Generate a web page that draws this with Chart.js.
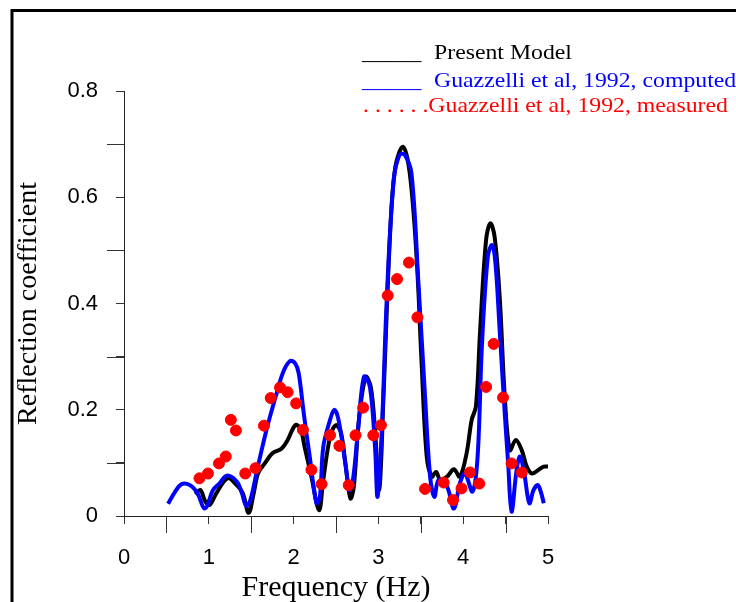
<!DOCTYPE html>
<html lang="en">
<head>
    <meta charset="UTF-8">
    <title>Reflection coefficient vs frequency</title>
    <script src="https://cdn.jsdelivr.net/npm/chart.js"></script>
    <style>
        body {
            margin: 0;
            background: white;
        }
        .chart-box {
            width: 736px;
            height: 602px;
        }
    </style>
</head>
<body>
    <div class="chart-box">
        <canvas id="reflectionChart" width="736" height="602"></canvas>
    </div>

    <script>
        // measured points (Guazzelli et al, 1992)
        const measuredFreq = [0.89, 0.99, 1.12, 1.20, 1.26, 1.32, 1.43, 1.55, 1.65, 1.73,
            1.84, 1.93, 2.03, 2.11, 2.21, 2.33, 2.43, 2.54, 2.65, 2.73,
            2.82, 2.94, 3.03, 3.11, 3.22, 3.36, 3.46, 3.55, 3.77, 3.88,
            3.98, 4.08, 4.19, 4.27, 4.36, 4.47, 4.57, 4.69];
        const measuredRefl = [0.071, 0.080, 0.099, 0.112, 0.181, 0.161, 0.080, 0.090, 0.170, 0.222,
            0.242, 0.233, 0.212, 0.162, 0.087, 0.060, 0.152, 0.132, 0.058, 0.152,
            0.204, 0.152, 0.171, 0.415, 0.446, 0.477, 0.374, 0.051, 0.063, 0.030,
            0.052, 0.082, 0.061, 0.243, 0.324, 0.223, 0.099, 0.082];

        // present model
        const modelFreq = [0.84, 0.90, 0.96, 1.01, 1.09, 1.22, 1.33, 1.40, 1.47, 1.53,
            1.58, 1.66, 1.75, 1.86, 1.93, 2.02, 2.08, 2.13, 2.21, 2.30,
            2.35, 2.43, 2.50, 2.56, 2.62, 2.67, 2.71, 2.77, 2.85, 2.91,
            2.96, 3.01, 3.06, 3.14, 3.20, 3.29, 3.37, 3.45, 3.51, 3.57,
            3.63, 3.68, 3.73, 3.81, 3.89, 3.96, 4.04, 4.10, 4.15, 4.20,
            4.27, 4.32, 4.37, 4.43, 4.49, 4.55, 4.62, 4.69, 4.75, 4.81,
            4.89, 4.95, 5.00];
        const modelRefl = [0.041, 0.049, 0.027, 0.021, 0.043, 0.071, 0.058, 0.043, 0.006, 0.043,
            0.080, 0.099, 0.118, 0.127, 0.143, 0.171, 0.165, 0.130, 0.074, 0.011,
            0.068, 0.149, 0.171, 0.156, 0.087, 0.033, 0.055, 0.181, 0.262, 0.243,
            0.162, 0.050, 0.225, 0.538, 0.657, 0.695, 0.645, 0.488, 0.287, 0.112,
            0.074, 0.083, 0.068, 0.074, 0.088, 0.074, 0.118, 0.181, 0.206, 0.350,
            0.520, 0.551, 0.526, 0.413, 0.225, 0.124, 0.143, 0.124, 0.093, 0.080,
            0.087, 0.093, 0.093];

        // computed (Guazzelli et al, 1992)
        const computedFreq = [0.52, 0.60, 0.68, 0.78, 0.86, 0.955, 1.05, 1.13, 1.21, 1.33,
            1.39, 1.44, 1.49, 1.57, 1.68, 1.80, 1.88, 1.96, 2.02, 2.06,
            2.12, 2.19, 2.27, 2.31, 2.35, 2.43, 2.48, 2.53, 2.61, 2.66,
            2.70, 2.76, 2.83, 2.90, 2.96, 2.99, 3.04, 3.10, 3.18, 3.25,
            3.31, 3.39, 3.47, 3.55, 3.61, 3.66, 3.71, 3.81, 3.89, 3.96,
            4.02, 4.11, 4.17, 4.22, 4.29, 4.34, 4.38, 4.43, 4.49, 4.53,
            4.57, 4.63, 4.67, 4.72, 4.78, 4.83, 4.88, 4.92, 4.95];
        const computedRefl = [0.023, 0.045, 0.060, 0.058, 0.045, 0.014, 0.049, 0.062, 0.076, 0.065,
            0.043, 0.019, 0.030, 0.087, 0.162, 0.231, 0.272, 0.292, 0.287, 0.269,
            0.193, 0.112, 0.024, 0.036, 0.130, 0.181, 0.200, 0.181, 0.099, 0.049,
            0.068, 0.162, 0.262, 0.243, 0.130, 0.036, 0.162, 0.413, 0.632, 0.680,
            0.680, 0.645, 0.444, 0.225, 0.074, 0.036, 0.068, 0.055, 0.014, 0.061,
            0.080, 0.046, 0.112, 0.319, 0.488, 0.510, 0.476, 0.350, 0.193, 0.099,
            0.008, 0.087, 0.112, 0.080, 0.024, 0.049, 0.058, 0.043, 0.024];

        const xTicks = [0, 1, 2, 3, 4, 5];
        const yTicks = [0, 0.2, 0.4, 0.6, 0.8];

        const toPoints = (xs, ys) => xs.map((x, i) => ({ x: x, y: ys[i] }));

        function stretchedText(ctx, str, x, y, color) {
            ctx.save();
            ctx.translate(x, y);
            ctx.scale(1.08, 1);
            ctx.fillStyle = color;
            ctx.fillText(str, 0, 0);
            ctx.restore();
        }

        // frame, long minor ticks and the text legend
        const decorations = {
            id: 'decorations',
            afterDraw(chart) {
                const ctx = chart.ctx;
                const xs = chart.scales.x;
                const ys = chart.scales.y;
                ctx.save();

                ctx.strokeStyle = '#000';
                ctx.lineWidth = 3;
                ctx.beginPath();
                ctx.moveTo(736, 10.5);
                ctx.lineTo(12, 10.5);
                ctx.lineTo(12, 602);
                ctx.stroke();

                ctx.strokeStyle = '#333';
                ctx.lineWidth = 1;
                xs.ticks.forEach(t => {
                    if (!xTicks.includes(Math.round(t.value * 10) / 10)) {
                        const px = Math.round(xs.getPixelForValue(t.value)) + 0.5;
                        ctx.beginPath();
                        ctx.moveTo(px, xs.top);
                        ctx.lineTo(px, xs.top + 17);
                        ctx.stroke();
                    }
                });
                ys.ticks.forEach(t => {
                    if (!yTicks.includes(Math.round(t.value * 10) / 10)) {
                        const py = Math.round(ys.getPixelForValue(t.value)) + 0.5;
                        ctx.beginPath();
                        ctx.moveTo(ys.right, py);
                        ctx.lineTo(ys.right - 17, py);
                        ctx.stroke();
                    }
                });

                ctx.font = '22px "Liberation Serif"';
                ctx.textBaseline = 'alphabetic';
                stretchedText(ctx, '_____', 362, 59, '#000');
                stretchedText(ctx, 'Present Model', 434, 59, '#000');
                stretchedText(ctx, '_____', 362, 86.5, '#0000ff');
                stretchedText(ctx, 'Guazzelli et al, 1992, computed', 434, 86.5, '#0000ff');
                stretchedText(ctx, '. . . . . .Guazzelli et al, 1992, measured', 363, 112, '#ff0000');

                ctx.restore();
            }
        };

        const ctx = document.getElementById('reflectionChart').getContext('2d');

        new Chart(ctx, {
            type: 'scatter',
            data: {
                datasets: [
                    {
                        label: 'Guazzelli et al, 1992, measured',
                        data: toPoints(measuredFreq, measuredRefl),
                        backgroundColor: '#ff0000',
                        borderColor: '#ff0000',
                        pointRadius: 5.5,
                        showLine: false,
                        order: 0
                    },
                    {
                        label: 'Guazzelli et al, 1992, computed',
                        data: toPoints(computedFreq, computedRefl),
                        borderColor: '#0000ff',
                        borderWidth: 4,
                        pointRadius: 0,
                        showLine: true,
                        tension: 0.35,
                        order: 1
                    },
                    {
                        label: 'Present Model',
                        data: toPoints(modelFreq, modelRefl),
                        borderColor: '#000000',
                        borderWidth: 4,
                        pointRadius: 0,
                        showLine: true,
                        tension: 0.35,
                        order: 2
                    }
                ]
            },
            options: {
                responsive: false,
                animation: false,
                layout: {
                    padding: { left: 0, top: 91, right: 188, bottom: 0 }
                },
                plugins: {
                    legend: { display: false },
                    tooltip: { enabled: false }
                },
                scales: {
                    x: {
                        type: 'linear',
                        min: 0,
                        max: 5,
                        afterFit: scale => { scale.height = 86; },
                        grid: {
                            drawOnChartArea: false,
                            tickLength: 8,
                            tickColor: '#333'
                        },
                        border: { color: '#222', width: 1 },
                        ticks: {
                            stepSize: 0.5,
                            autoSkip: false,
                            maxRotation: 0,
                            padding: 21,
                            color: '#000',
                            font: { family: '"Liberation Sans"', size: 22 },
                            callback: v => xTicks.includes(v) ? String(v) : ''
                        },
                        title: {
                            display: true,
                            text: 'Frequency (Hz)',
                            color: '#000',
                            font: { family: '"Liberation Serif"', size: 30, lineHeight: 0.93 },
                            padding: 0
                        }
                    },
                    y: {
                        type: 'linear',
                        min: 0,
                        max: 0.8,
                        afterFit: scale => { scale.width = 124; },
                        grid: {
                            drawOnChartArea: false,
                            tickLength: 8,
                            tickColor: '#333'
                        },
                        border: { color: '#222', width: 1 },
                        ticks: {
                            stepSize: 0.1,
                            autoSkip: false,
                            padding: 18,
                            color: '#000',
                            font: { family: '"Liberation Sans"', size: 22 },
                            callback: v => {
                                const r = Math.round(v * 10) / 10;
                                return yTicks.includes(r) ? String(r) : '';
                            }
                        },
                        title: {
                            display: true,
                            text: 'Reflection coefficient',
                            color: '#000',
                            font: { family: '"Liberation Serif"', size: 28 },
                            padding: { top: 12, bottom: 0 }
                        }
                    }
                }
            },
            plugins: [decorations]
        });
    </script>
</body>
</html>
